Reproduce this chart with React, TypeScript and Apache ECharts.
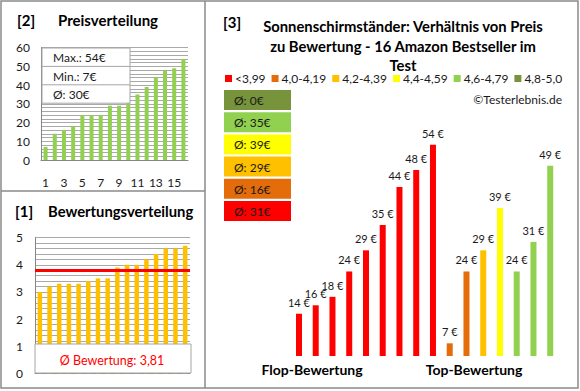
import React, { useEffect, useRef } from "react";
import * as echarts from "echarts";

// ---- data ----
const priceCategories = ["1","2","3","4","5","6","7","8","9","10","11","12","13","14","15","16"];
const priceValues = [7, 14, 16, 18, 24, 24, 24, 29, 29, 31, 35, 39, 44, 48, 49, 54];
const priceStatLabels = ["Max.: 54€", "Min.: 7€", "Ø: 30€"];

const ratingValues = [3.0, 3.2, 3.3, 3.3, 3.3, 3.4, 3.5, 3.5, 3.9, 4.0, 4.0, 4.2, 4.4, 4.6, 4.6, 4.7];
const ratingAverage = 3.81;
const ratingAverageLabel = "Ø Bewertung: 3,81";

const bandNames = ["<3,99", "4,0-4,19", "4,2-4,39", "4,4-4,59", "4,6-4,79", "4,8-5,0"];
const bandColors = ["#FF0000", "#E46C0A", "#FFC000", "#FFFF00", "#92D050", "#77933C"];
const bandAverageLabels = ["Ø: 31€", "Ø: 16€", "Ø: 29€", "Ø: 39€", "Ø: 35€", "Ø: 0€"];

const productPrices = [14, 16, 18, 24, 29, 35, 44, 48, 54, 7, 24, 29, 39, 24, 31, 49];
const productBands = [0, 0, 0, 0, 0, 0, 0, 0, 0, 1, 1, 2, 3, 4, 4, 4];

const mainTitleLines = [
  "Sonnenschirmständer: Verhältnis von Preis",
  "zu Bewertung - 16 Amazon Bestseller im",
  "Test",
];

const FONT = "Lato, 'Open Sans', sans-serif";

export default function App() {
  const ref = useRef<HTMLDivElement>(null);

  useEffect(() => {
    if (!ref.current) return;
    const chart = echarts.init(ref.current, undefined, { renderer: "svg" });
    const gridColor = "#A9A9A9";
    const axisColor = "#868686";
    const frame = "#8A8A8A";
    const textColor = "#1A1A1A";

    const graphics: any[] = [];
    // frame
    graphics.push({ type: "rect", z: 100, shape: { x: 1, y: 1, width: 577, height: 387 }, style: { fill: "none", stroke: frame, lineWidth: 1.5 } });
    graphics.push({ type: "line", z: 100, shape: { x1: 205, y1: 1, x2: 205, y2: 388 }, style: { stroke: frame, lineWidth: 1.5 } });
    graphics.push({ type: "line", z: 100, shape: { x1: 1, y1: 191, x2: 205, y2: 191 }, style: { stroke: frame, lineWidth: 1.5 } });

    // panel titles
    const titleText = (text: string, x: number, y: number, size: number, align = "left") => ({
      type: "text", z: 100, x, y,
      style: { text, fill: "#000", font: `bold ${size}px ${FONT}`, align, verticalAlign: "middle" },
    });
    graphics.push(titleText("[2]", 17, 20, 15));
    graphics.push(titleText("Preisverteilung", 58, 20, 15));
    graphics.push(titleText("[1]", 15, 211, 15));
    graphics.push(titleText("Bewertungsverteilung", 48, 211, 14.8));
    graphics.push(titleText("[3]", 223, 22, 15));
    const titleYs = [26, 46, 64.5];
    mainTitleLines.forEach((line, i) => graphics.push(titleText(line, 403, titleYs[i], 14.8, "center")));

    // price stats box
    const bx = 42, by = 48, bw = 88, rowH = 18.4;
    graphics.push({ type: "rect", z: 100, shape: { x: bx, y: by, width: bw, height: rowH * 3 }, style: { fill: "#fff", stroke: "#A6A6A6", lineWidth: 1 } });
    priceStatLabels.forEach((t, i) => {
      if (i > 0) graphics.push({ type: "line", z: 101, shape: { x1: bx, y1: by + rowH * i, x2: bx + bw, y2: by + rowH * i }, style: { stroke: "#A6A6A6", lineWidth: 1 } });
      graphics.push({ type: "text", z: 101, x: 53, y: by + rowH * i + rowH / 2 + 0.5, style: { text: t, fill: textColor, font: `12px ${FONT}`, verticalAlign: "middle" } });
    });

    // rating avg box
    graphics.push({ type: "rect", z: 100, shape: { x: 35, y: 344, width: 156, height: 29 }, style: { fill: "#fff", stroke: "#A6A6A6", lineWidth: 1 } });
    graphics.push({ type: "text", z: 101, x: 112, y: 360, style: { text: ratingAverageLabel, fill: "#FF0000", font: `12.5px ${FONT}`, align: "center", verticalAlign: "middle" } });

    // band average boxes (top: last band)
    for (let k = 0; k < bandNames.length; k++) {
      const b = bandNames.length - 1 - k;
      const top = 90 + k * 22.2;
      graphics.push({ type: "rect", z: 100, shape: { x: 224, y: top, width: 67, height: 20 }, style: { fill: bandColors[b] } });
      graphics.push({ type: "text", z: 101, x: 234, y: top + 10.5, style: { text: bandAverageLabels[b], fill: textColor, font: `12px ${FONT}`, verticalAlign: "middle" } });
    }

    graphics.push({ type: "text", z: 100, x: 562, y: 99, style: { text: "©Testerlebnis.de", fill: textColor, font: `12px ${FONT}`, align: "right", verticalAlign: "middle" } });
    graphics.push({ type: "text", z: 100, x: 312, y: 369, style: { text: "Flop-Bewertung", fill: "#000", font: `bold 14px ${FONT}`, align: "center", verticalAlign: "middle" } });
    graphics.push({ type: "text", z: 100, x: 474, y: 369, style: { text: "Top-Bewertung", fill: "#000", font: `bold 14px ${FONT}`, align: "center", verticalAlign: "middle" } });

    const bandSeries = bandNames.map((name, b) => ({
      name,
      type: "bar",
      xAxisIndex: 2,
      yAxisIndex: 2,
      barWidth: 6,
      barGap: "-100%",
      itemStyle: { color: bandColors[b] },
      label: {
        show: true,
        position: "top",
        distance: 6,
        formatter: "{c} €",
        color: textColor,
        fontSize: 11,
        fontFamily: FONT,
      },
      data: productPrices.map((v, i) => (productBands[i] === b ? v : "-")),
    }));

    chart.setOption({
      animation: false,
      textStyle: { fontFamily: FONT },
      legend: {
        data: bandNames,
        left: 225,
        top: 72.5,
        padding: 0,
        itemWidth: 7,
        itemHeight: 7,
        itemGap: 6,
        icon: "rect",
        textStyle: { fontSize: 12, color: textColor, fontFamily: FONT, padding: [0, 0, 0, -2] },
      },
      grid: [
        { left: 41, top: 47.7, width: 147, height: 112.3 },
        { left: 35, top: 237.7, width: 155, height: 135.6 },
        { left: 290.6, top: 119.3, width: 268, height: 236.7 },
      ],
      xAxis: [
        {
          gridIndex: 0, type: "category", data: priceCategories,
          axisLine: { lineStyle: { color: axisColor } }, axisTick: { show: false },
          axisLabel: { interval: 1, margin: 16, color: textColor, fontSize: 12, fontFamily: FONT },
        },
        {
          gridIndex: 1, type: "category", data: priceCategories,
          axisLine: { lineStyle: { color: axisColor } }, axisTick: { show: false }, axisLabel: { show: false },
        },
        { gridIndex: 2, type: "category", data: priceCategories, show: false },
      ],
      yAxis: [
        {
          gridIndex: 0, type: "value", min: 0, max: 60, interval: 10,
          axisLine: { show: true, lineStyle: { color: axisColor } }, axisTick: { show: false },
          axisLabel: { margin: 11, color: textColor, fontSize: 12, fontFamily: FONT },
          splitLine: { lineStyle: { color: gridColor } },
          minorSplitLine: { show: true, lineStyle: { color: gridColor } },
          minorTick: { show: false, splitNumber: 5 },
        },
        {
          gridIndex: 1, type: "value", min: 0, max: 5, interval: 1,
          axisLine: { show: true, lineStyle: { color: axisColor } }, axisTick: { show: false },
          axisLabel: { margin: 12, color: textColor, fontSize: 12, fontFamily: FONT },
          splitLine: { lineStyle: { color: gridColor } },
          minorSplitLine: { show: true, lineStyle: { color: gridColor } },
          minorTick: { show: false, splitNumber: 5 },
        },
        { gridIndex: 2, type: "value", min: 4, max: 60, show: false, splitLine: { show: false } },
      ],
      series: [
        {
          type: "bar", xAxisIndex: 0, yAxisIndex: 0, barWidth: 4,
          itemStyle: { color: "#92D050" }, data: priceValues,
        },
        {
          type: "bar", xAxisIndex: 1, yAxisIndex: 1, barWidth: 4.5,
          itemStyle: { color: "#FFC000" }, data: ratingValues,
          markLine: {
            silent: true, symbol: "none", label: { show: false },
            lineStyle: { color: "#FF0000", width: 3, type: "solid" },
            data: [{ yAxis: ratingAverage }],
          },
        },
        ...bandSeries,
      ],
      graphic: graphics,
    });

    return () => chart.dispose();
  }, []);

  return (
    <div
      ref={ref}
      style={{ position: "absolute", left: 0, top: 0, width: 580, height: 391, background: "#fff" }}
    />
  );
}
